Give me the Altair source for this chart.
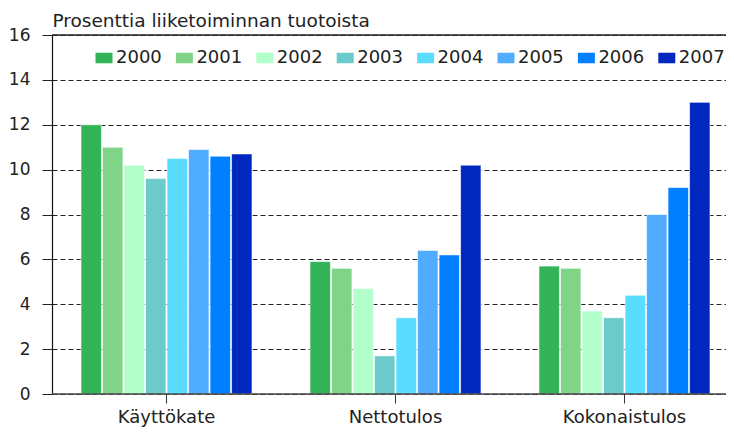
import altair as alt
import pandas as pd

categories = ["Käyttökate", "Nettotulos", "Kokonaistulos"]
years = ["2000", "2001", "2002", "2003", "2004", "2005", "2006", "2007"]
kayttokate = [12.0, 11.0, 10.2, 9.6, 10.5, 10.9, 10.6, 10.7]
nettotulos = [5.9, 5.6, 4.7, 1.7, 3.4, 6.4, 6.2, 10.2]
kokonaistulos = [5.7, 5.6, 3.7, 3.4, 4.4, 8.0, 9.2, 13.0]
colors = ["#33B357", "#7FD488", "#B3FFCC", "#6CCACA", "#5ADCFF", "#50ACFF", "#0080FF", "#0028BE"]
y_ticks = [0, 2, 4, 6, 8, 10, 12, 14, 16]
y_title = "Prosenttia liiketoiminnan tuotoista"

rows = []
for cat, vals in zip(categories, [kayttokate, nettotulos, kokonaistulos]):
    for yr, v in zip(years, vals):
        rows.append({"kategoria": cat, "vuosi": yr, "arvo": v})
df = pd.DataFrame(rows)

W = 687
H = 359
FONT = "DejaVu Sans"

y_scale = alt.Scale(domain=[0, 16], nice=False)
y_axis = alt.Axis(values=y_ticks, format="d", title=y_title,
                  titleAngle=0, titleAlign="left", titleBaseline="alphabetic",
                  titleX=0, titleY=-8.5, titleFont=FONT, titleFontSize=18.5,
                  titleFontWeight="normal", titleColor="#222222",
                  labelFont=FONT, labelFontSize=17, labelColor="#222222",
                  labelPadding=12, tickSize=10, tickColor="#222222",
                  domainColor="#111111", domainWidth=1.2,
                  grid=True, gridColor="#222222", gridDash=[5, 3],
                  gridWidth=1.1)

bars = alt.Chart(df).mark_bar(stroke="white", strokeWidth=0.6).encode(
    x=alt.X("kategoria:N", sort=categories,
            scale=alt.Scale(paddingInner=0, paddingOuter=0),
            axis=alt.Axis(title=None, domain=False, tickSize=9, tickColor="#333333",
                          labelAngle=0, labelFont=FONT, labelFontSize=18,
                          labelColor="#222222", labelPadding=5, bandPosition=0.5)),
    xOffset=alt.XOffset("vuosi:N", sort=years,
                        scale=alt.Scale(range=[29, 200], paddingInner=0.05, paddingOuter=0)),
    y=alt.Y("arvo:Q", scale=y_scale, axis=y_axis),
    color=alt.Color("vuosi:N", sort=years,
                    scale=alt.Scale(domain=years, range=colors),
                    legend=alt.Legend(title=None, orient="none", legendX=43, legendY=14,
                                      direction="horizontal", columns=8,
                                      symbolType="M-1,-0.62L1,-0.62L1,0.62L-1,0.62Z",
                                      symbolSize=289, symbolStrokeWidth=0,
                                      symbolOpacity=1,
                                      labelFont=FONT, labelFontSize=18,
                                      labelColor="#222222", labelOffset=3,
                                      columnPadding=13.4, padding=0)),
)

lines_df = pd.DataFrame({"arvo": [0, 16], "c": ["#444444", "#222222"]})
rules = alt.Chart(lines_df).mark_rule(strokeWidth=1.4).encode(
    y=alt.Y("arvo:Q", scale=y_scale, axis=y_axis),
    x=alt.value(0),
    x2=alt.value(W),
    color=alt.Color("c:N", scale=None),
)

chart = alt.layer(bars, rules).properties(
    width=W, height=H,
    autosize=alt.AutoSizeParams(type="none"),
    padding={"left": 44, "top": 27, "right": -13, "bottom": 33},
).configure_view(strokeWidth=0).configure(background="white")

chart.save("out.html", embed_options={"renderer": "svg", "actions": False})
